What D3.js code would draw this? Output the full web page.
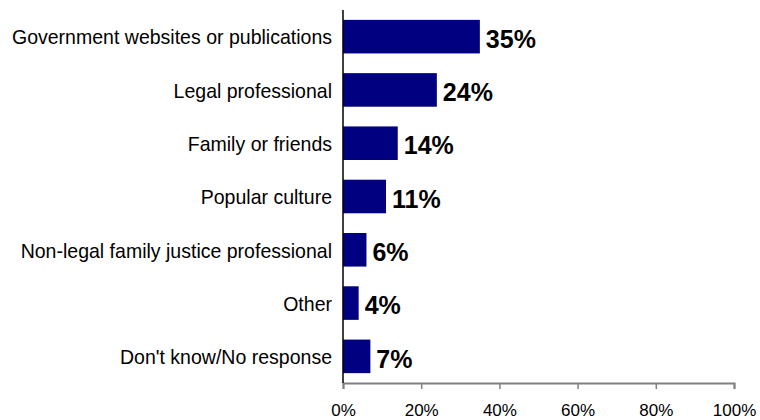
<!DOCTYPE html>
<html>
<head>
<meta charset="utf-8">
<script src="https://cdn.jsdelivr.net/npm/d3@7/dist/d3.min.js"></script>
<style>
  html, body { margin: 0; padding: 0; background: #fff; }
  svg { display: block; }
</style>
</head>
<body>
<svg id="chart" width="760" height="420"></svg>
<script>
// Sources of information (share of respondents)
const categories = [
  "Government websites or publications",
  "Legal professional",
  "Family or friends",
  "Popular culture",
  "Non-legal family justice professional",
  "Other",
  "Don't know/No response"
];
const values = [35, 24, 14, 11, 6, 4, 7];
const tickValues = [0, 20, 40, 60, 80, 100];

const svg = d3.select("#chart");
const font = "Liberation Sans, Arial, sans-serif";

const x = d3.scaleLinear().domain([0, 100]).range([343, 734]);
const y = d3.scaleBand().domain(categories).range([10, 383])
  .paddingInner(0.37).paddingOuter(0.185);

// bars
svg.append("g").selectAll("rect")
  .data(values)
  .join("rect")
  .attr("x", x(0))
  .attr("y", (d, i) => y(categories[i]))
  .attr("width", d => x(d) - x(0))
  .attr("height", y.bandwidth())
  .attr("fill", "#000080");

// value labels
svg.append("g").selectAll("text")
  .data(values)
  .join("text")
  .attr("x", d => x(d) + 6)
  .attr("y", (d, i) => y(categories[i]) + y.bandwidth() / 2)
  .attr("dy", "0.45em")
  .attr("font-family", font)
  .attr("font-weight", "bold")
  .attr("font-size", 25)
  .attr("fill", "#000")
  .text(d => d + "%");

// category labels (slightly condensed face)
svg.append("g")
  .attr("transform", "translate(332,0) scale(0.93,1)")
  .selectAll("text")
  .data(categories)
  .join("text")
  .attr("x", 0)
  .attr("y", d => y(d) + y.bandwidth() / 2)
  .attr("dy", "0.37em")
  .attr("text-anchor", "end")
  .attr("font-family", font)
  .attr("font-size", 21)
  .attr("fill", "#000")
  .text(d => d);

// x axis
const xAxis = svg.append("g")
  .attr("transform", "translate(0,383)")
  .call(d3.axisBottom(x).tickValues(tickValues).tickSize(6).tickPadding(15)
    .tickFormat(d => d + "%"));
xAxis.select(".domain").attr("stroke", "#808080").attr("stroke-width", 2);
xAxis.selectAll(".tick line").attr("stroke", "#808080").attr("stroke-width", 1.5);
xAxis.selectAll(".tick text")
  .attr("font-family", font).attr("font-size", 17).attr("fill", "#000");

// y axis line
svg.append("line")
  .attr("x1", x(0)).attr("x2", x(0))
  .attr("y1", 10).attr("y2", 383)
  .attr("stroke", "#000").attr("stroke-width", 1.5);
</script>
</body>
</html>
